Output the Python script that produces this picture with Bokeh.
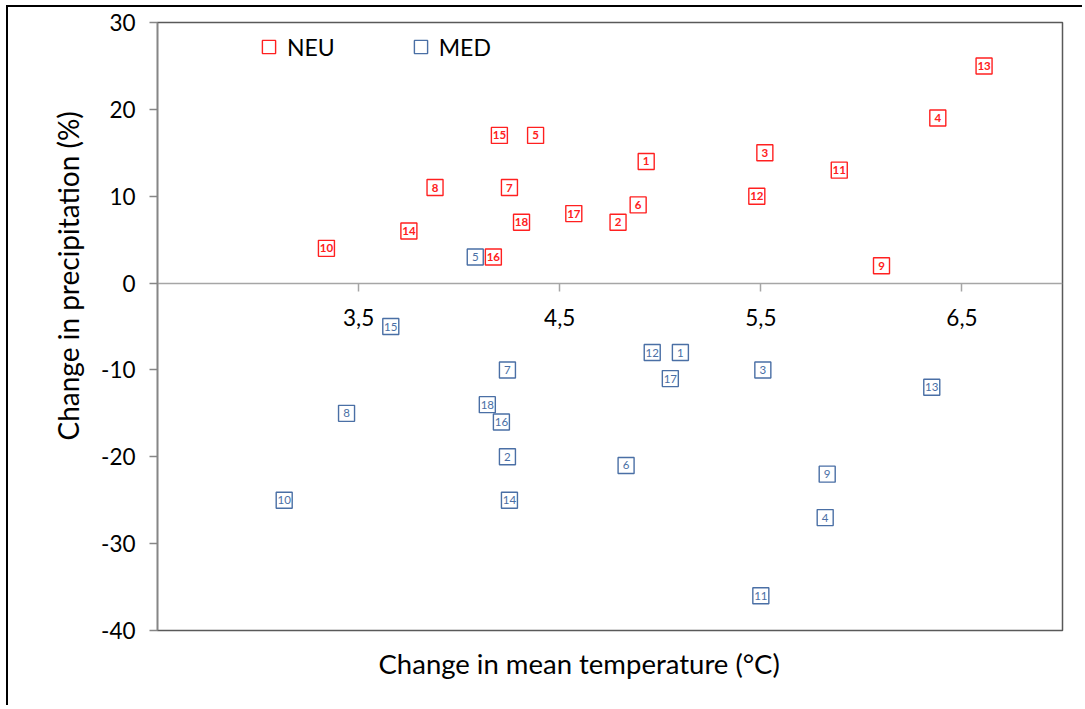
from bokeh.plotting import figure
from bokeh.models import Range1d, LinearAxis, FixedTicker, Legend, LegendItem, Title, ColumnDataSource
from bokeh.core.properties import value
from bokeh.embed import file_html
from bokeh.resources import INLINE

# ---- data ----
neu_ids = ["1", "2", "3", "4", "5", "6", "7", "8", "9", "10", "11", "12", "13", "14", "15", "16", "17", "18"]
neu_temp = [4.93, 4.79, 5.52, 6.38, 4.38, 4.89, 4.25, 3.88, 6.10, 3.34, 5.89, 5.48, 6.61, 3.75, 4.20, 4.17, 4.57, 4.31]
neu_prec = [14, 7, 15, 19, 17, 9, 11, 11, 2, 4, 13, 10, 25, 6, 17, 3, 8, 7]

med_ids = ["1", "2", "3", "4", "5", "6", "7", "8", "9", "10", "11", "12", "13", "14", "15", "16", "17", "18"]
med_temp = [5.10, 4.24, 5.51, 5.82, 4.08, 4.83, 4.24, 3.44, 5.83, 3.13, 5.50, 4.96, 6.35, 4.25, 3.66, 4.21, 5.05, 4.14]
med_prec = [-8, -20, -10, -27, 3, -21, -10, -15, -22, -25, -36, -8, -12, -25, -5, -16, -11, -14]

x_ticks = [3.5, 4.5, 5.5, 6.5]
x_tick_labels = ["3,5", "4,5", "5,5", "6,5"]
y_ticks = [-40, -30, -20, -10, 0, 10, 20, 30]
y_tick_labels = ["-40", "-30", "-20", "-10", "0", "10", "20", "30"]

RED = "#FF2020"
BLUE = "#4A6FA5"
FONT = "Lato"

p = figure(width=1076, height=700, x_range=Range1d(2.5, 7.0), y_range=Range1d(-40, 30),
           output_backend="svg", toolbar_location=None, x_axis_location=None,
           min_border_left=149, min_border_right=22, min_border_top=15, min_border_bottom=77)
p.styles = {"margin": "7px 0px 0px 8px", "box-shadow": "-2px -2px 0px 0px #000000"}
p.grid.visible = False
p.outline_line_color = "#595959"
p.outline_line_width = 1.5
p.background_fill_color = "white"
p.border_fill_color = "white"

# y axis
ya = p.yaxis[0]
ya.ticker = FixedTicker(ticks=y_ticks)
ya.major_label_overrides = dict(zip(y_ticks, y_tick_labels))
ya.minor_tick_line_color = None
ya.major_tick_in = 0
ya.major_tick_out = 8
ya.axis_line_color = "#868686"
ya.axis_line_width = 1.5
ya.major_tick_line_color = "#868686"
ya.major_tick_line_width = 1.5
ya.major_label_text_font = FONT
ya.major_label_text_font_size = "22.5px"
ya.major_label_text_color = "#000000"
ya.major_label_standoff = 14

# x axis crossing at y = 0
xa = LinearAxis(fixed_location=0, ticker=FixedTicker(ticks=x_ticks),
                major_label_overrides=dict(zip(x_ticks, x_tick_labels)))
xa.minor_tick_line_color = None
xa.major_tick_in = 0
xa.major_tick_out = 8
xa.axis_line_color = "#A6A6A6"
xa.axis_line_width = 1.5
xa.major_tick_line_color = "#A6A6A6"
xa.major_tick_line_width = 1.5
xa.major_label_text_font = FONT
xa.major_label_text_font_size = "22.5px"
xa.major_label_text_color = "#000000"
xa.major_label_standoff = 18
p.add_layout(xa, "below")

# titles
yt = Title(text="Change in precipitation (%)", align="left", offset=190, standoff=28,
           text_font=FONT, text_font_size="28px", text_font_style="normal", text_color="#000000")
p.add_layout(yt, "left")
xt = Title(text="Change in mean temperature (°C)", align="left", offset=221, standoff=28,
           text_font=FONT, text_font_size="27.5px", text_font_style="normal", text_color="#000000")
p.add_layout(xt, "below")

# series
src_neu = ColumnDataSource(dict(x=neu_temp, y=neu_prec, lab=neu_ids))
src_med = ColumnDataSource(dict(x=med_temp, y=med_prec, lab=med_ids))

r_neu = p.scatter("x", "y", source=src_neu, marker="square", size=16, fill_color="white",
                  line_color=RED, line_width=1.4)
r_med = p.scatter("x", "y", source=src_med, marker="square", size=16, fill_color="white",
                  line_color=BLUE, line_width=1.4)
p.text("x", "y", text="lab", source=src_neu, text_align="center", text_baseline="middle",
       text_font=value(FONT), text_font_size="11.5px", text_font_style="bold", text_color=RED)
p.text("x", "y", text="lab", source=src_med, text_align="center", text_baseline="middle",
       text_font=value(FONT), text_font_size="11.5px", text_color=BLUE)

legend = Legend(items=[LegendItem(label="NEU", renderers=[r_neu]),
                       LegendItem(label="MED", renderers=[r_med])],
                orientation="horizontal", location=(95, 567), padding=0, margin=0,
                spacing=69, label_standoff=2, glyph_width=33, glyph_height=33, label_height=26,
                label_text_font=FONT, label_text_font_size="23px", label_text_color="#000000",
                border_line_color=None, background_fill_alpha=0)
p.add_layout(legend)

open("out.html", "w").write(file_html(p, INLINE))
